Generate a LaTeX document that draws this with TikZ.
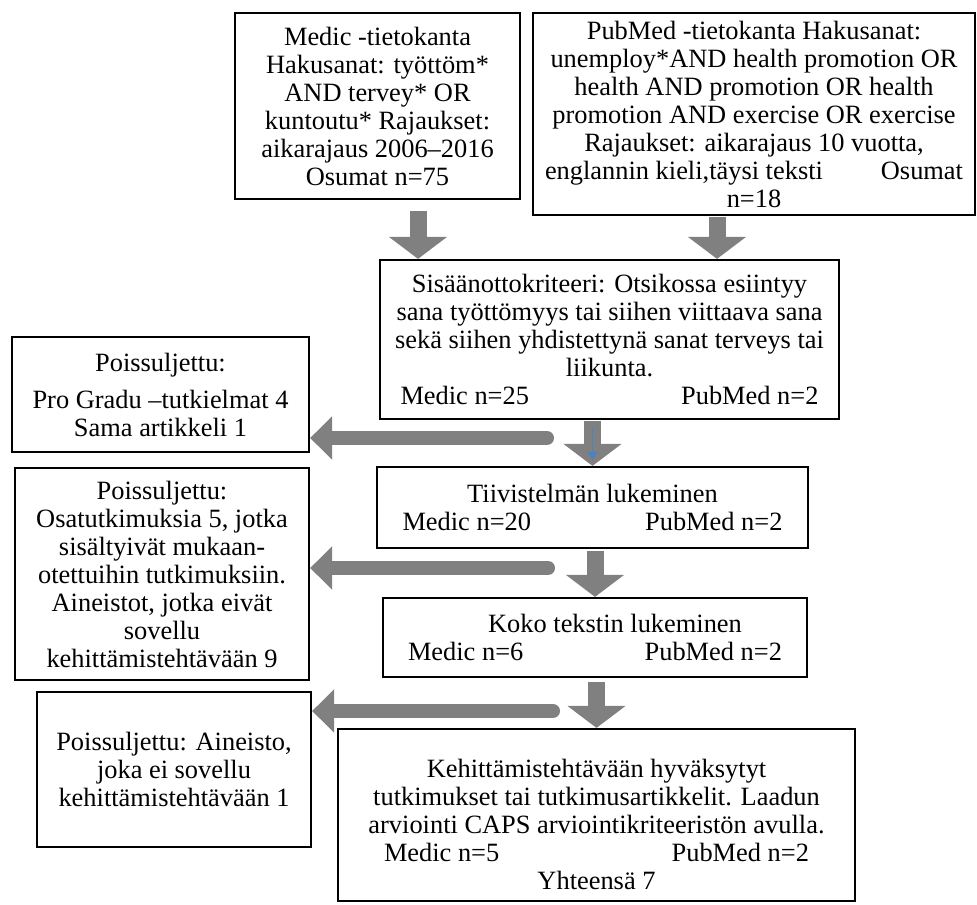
\documentclass[tikz,border=0pt]{standalone}
\usepackage{fontspec}
\setmainfont{Liberation Serif}
\usetikzlibrary{arrows.meta,positioning}
\tikzset{x=0.5pt,y=-0.5pt}
\tikzset{box/.style={draw,line width=1.1pt,align=center,inner sep=2pt,font=\fontsize{13.2}{14}\selectfont}}
\tikzset{downarrow/.style={draw=gray,line width=8.5pt,-{Triangle[width=28.5pt,length=11pt]}}}
\tikzset{outarrow/.style={draw=gray,line width=7pt,line cap=round,-{Triangle[width=21pt,length=11pt]}}}
\tikzset{thinblue/.style={draw={rgb,255:red,79;green,129;blue,189},line width=0.9pt,-{Triangle[width=5pt,length=4pt]}}}
\begin{document}
\begin{tikzpicture}
    \useasboundingbox (0,0) rectangle (977,904);
        \node[box,minimum width=142.5pt,minimum height=93pt] (medic) at (377.5,106) {
                Medic -tietokanta\\
                Hakusanat: työttöm*\\
                AND tervey* OR\\
                kuntoutu* Rajaukset:\\
                aikarajaus 2006–2016\\
                Osumat n=75};
        \node[box,minimum width=221pt,minimum height=101pt] (pubmed) at (754,114) {
                PubMed -tietokanta Hakusanat:\\
                unemploy*AND health promotion OR\\
                health AND promotion OR health\\
                promotion AND exercise OR exercise\\
                Rajaukset: aikarajaus 10 vuotta,\\
                englannin kieli,täysi teksti\hspace{29pt}Osumat\\
                n=18};
        \node[box,minimum width=229.5pt,minimum height=79.5pt] (sisaan) at (609.5,339.5) {
                Sisäänottokriteeri: Otsikossa esiintyy\\
                sana työttömyys tai siihen viittaava sana\\
                sekä siihen yhdistettynä sanat terveys tai\\
                liikunta.\\
                \makebox[209pt]{Medic n=25\hfill PubMed n=2}};
        \node[box,minimum width=215.5pt,minimum height=40.5pt] (tiivis) at (592.5,507.5) {
                Tiivistelmän lukeminen\\
                \makebox[190pt]{Medic n=20\hfill PubMed n=2}};
        \node[box,minimum width=212pt,minimum height=39.5pt] (koko) at (595,637.5) {
                \hspace*{20pt}Koko tekstin lukeminen\\
                \makebox[187pt]{Medic n=6\hfill PubMed n=2}};
        \node[box,minimum width=258.5pt,minimum height=86pt] (hyvak) at (596.5,815) {
                \rule{0pt}{18.5pt}Kehittämistehtävään hyväksytyt\\
                tutkimukset tai tutkimusartikkelit. Laadun\\
                arviointi CAPS arviointikriteeristön avulla.\\
                \makebox[212.5pt]{Medic n=5\hfill PubMed n=2}\\
                Yhteensä 7};
        \node[box,minimum width=148.5pt,minimum height=57.5pt] (pois1) at (160.5,394.5) {
                Poissuljettu:\\[4.5pt]
                Pro Gradu –tutkielmat 4\\
                Sama artikkeli 1};
        \node[box,minimum width=147pt,minimum height=106pt] (pois2) at (162,574) {
                Poissuljettu:\\
                Osatutkimuksia 5, jotka\\
                sisältyivät mukaan-\\
                otettuihin tutkimuksiin.\\
                Aineistot, jotka eivät\\
                sovellu\\
                kehittämistehtävään 9};
        \node[box,minimum width=137pt,minimum height=77.5pt] (pois3) at (174,769.5) {
                Poissuljettu: Aineisto,\\
                joka ei sovellu\\
                kehittämistehtävään 1};
        \coordinate (l1) at (547,438);
        \coordinate (l2) at (548,568);
        \coordinate (l3) at (553,711);
        \draw[downarrow] ([xshift=20.25pt,yshift=-5.5pt]medic.south) -- ([xshift=20.25pt]medic.south |- sisaan.north);
        \draw[downarrow] ([xshift=-18.5pt,yshift=-0.5pt]pubmed.south) -- ([xshift=-18.5pt]pubmed.south |- sisaan.north);
        \draw[downarrow] ([yshift=-0.5pt]sisaan.south -| tiivis.north) -- (tiivis.north);
        \draw[thinblue] ([yshift=-4pt]sisaan.south -| tiivis.north) -- ([yshift=3pt]tiivis.north);
        \draw[downarrow] ([yshift=-1pt]tiivis.south -| koko.north) -- (koko.north);
        \draw[downarrow] ([yshift=-2pt]koko.south -| hyvak.north) -- (hyvak.north);
        \draw[outarrow] (l1) -- (l1 -| pois1.east);
        \draw[outarrow] (l2) -- (l2 -| pois2.east);
        \draw[outarrow] (l3) -- (l3 -| pois3.east);
\end{tikzpicture}
\end{document}
